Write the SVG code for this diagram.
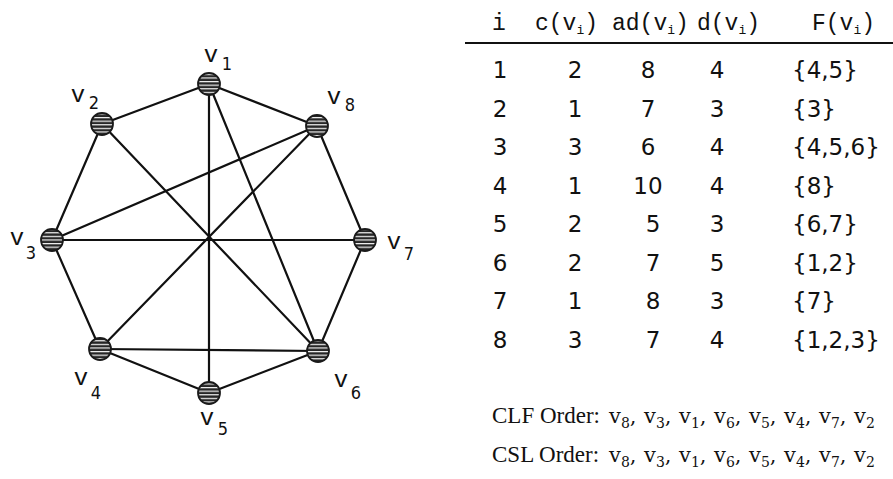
<svg xmlns="http://www.w3.org/2000/svg" width="893" height="479" viewBox="0 0 893 479">
<style>
.e{stroke:#111;stroke-width:2.2;fill:none;stroke-linecap:round}
.node{fill:url(#stripe);stroke:#1a1a1a;stroke-width:1.8}
.lv{font-family:"Liberation Mono",monospace;font-size:24px;fill:#111;text-anchor:middle}
.ls{font-family:"DejaVu Sans Condensed","DejaVu Sans",sans-serif;font-size:18px;fill:#111;text-anchor:middle}
.th{font-family:"Liberation Mono",monospace;font-size:23px;fill:#111}
.ths{font-family:"Liberation Mono",monospace;font-size:13px;fill:#111}
.td{font-family:"DejaVu Sans",sans-serif;font-size:23px;fill:#111;text-anchor:middle}
.tf{font-family:"DejaVu Sans",sans-serif;font-size:23px;fill:#111}
.ord{font-family:"Liberation Serif",serif;font-size:23px;fill:#111}
.ov{font-family:"DejaVu Serif",serif;font-size:21px;fill:#111}
.os{font-family:"DejaVu Serif",serif;font-size:14px;fill:#111}
</style>
<defs>
<pattern id="stripe" width="8" height="3.6" patternUnits="userSpaceOnUse">
<rect width="8" height="3.6" fill="#262626"/>
<rect y="1.8" width="8" height="1.2" fill="#f4f4f4"/>
</pattern>
</defs>
<rect width="893" height="479" fill="#fff"/>
<g id="connectors">
<line class="e" x1="209" y1="84" x2="102" y2="124"/>
<line class="e" x1="209" y1="84" x2="317" y2="126"/>
<line class="e" x1="102" y1="124" x2="52" y2="240"/>
<line class="e" x1="317" y1="126" x2="365" y2="240"/>
<line class="e" x1="52" y1="240" x2="100" y2="349"/>
<line class="e" x1="365" y1="240" x2="318" y2="351"/>
<line class="e" x1="100" y1="349" x2="209" y2="393"/>
<line class="e" x1="209" y1="393" x2="318" y2="351"/>
<line class="e" x1="209" y1="84" x2="209" y2="393"/>
<line class="e" x1="52" y1="240" x2="365" y2="240"/>
<line class="e" x1="102" y1="124" x2="318" y2="351"/>
<line class="e" x1="317" y1="126" x2="100" y2="349"/>
<line class="e" x1="52" y1="240" x2="317" y2="126"/>
<line class="e" x1="209" y1="84" x2="318" y2="351"/>
<line class="e" x1="100" y1="349" x2="318" y2="351"/>
</g>
<g id="v1"><circle class="node" cx="209" cy="84" r="11"/><text class="lv" x="211" y="62">v</text><text class="ls" x="227" y="70">1</text></g>
<g id="v2"><circle class="node" cx="102" cy="124" r="11"/><text class="lv" x="78" y="102">v</text><text class="ls" x="94" y="109">2</text></g>
<g id="v8"><circle class="node" cx="317" cy="126" r="11"/><text class="lv" x="334" y="104">v</text><text class="ls" x="350" y="111">8</text></g>
<g id="v3"><circle class="node" cx="52" cy="240" r="11"/><text class="lv" x="17" y="245">v</text><text class="ls" x="31" y="259">3</text></g>
<g id="v7"><circle class="node" cx="365" cy="240" r="11"/><text class="lv" x="394" y="249">v</text><text class="ls" x="409" y="260">7</text></g>
<g id="v4"><circle class="node" cx="100" cy="349" r="11"/><text class="lv" x="81" y="385">v</text><text class="ls" x="96" y="399">4</text></g>
<g id="v6"><circle class="node" cx="318" cy="351" r="11"/><text class="lv" x="341" y="387">v</text><text class="ls" x="356" y="399">6</text></g>
<g id="v5"><circle class="node" cx="209" cy="393" r="11"/><text class="lv" x="207" y="425">v</text><text class="ls" x="223" y="435">5</text></g>
<g id="table">
<text class="th" x="492" y="30">i</text>
<text class="th" x="535" y="30">c(v<tspan class="ths" dy="4">i</tspan><tspan dy="-4">)</tspan></text>
<text class="th" x="612" y="30">ad(v<tspan class="ths" dy="4">i</tspan><tspan dy="-4">)</tspan></text>
<text class="th" x="697" y="30">d(v<tspan class="ths" dy="4">i</tspan><tspan dy="-4">)</tspan></text>
<text class="th" x="812" y="30">F(v<tspan class="ths" dy="4">i</tspan><tspan dy="-4">)</tspan></text>
<line x1="465" y1="43" x2="893" y2="43" stroke="#111" stroke-width="2"/>
<g>
<text class="td" x="500" y="78">1</text><text class="td" x="575" y="78">2</text><text class="td" x="648" y="78">8</text><text class="td" x="717" y="78">4</text><text class="tf" x="792" y="78">{4,5}</text>
<text class="td" x="500" y="116.5">2</text><text class="td" x="575" y="116.5">1</text><text class="td" x="648" y="116.5">7</text><text class="td" x="717" y="116.5">3</text><text class="tf" x="792" y="116.5">{3}</text>
<text class="td" x="500" y="155">3</text><text class="td" x="575" y="155">3</text><text class="td" x="648" y="155">6</text><text class="td" x="717" y="155">4</text><text class="tf" x="792" y="155">{4,5,6}</text>
<text class="td" x="500" y="193.5">4</text><text class="td" x="575" y="193.5">1</text><text class="td" x="648" y="193.5">10</text><text class="td" x="717" y="193.5">4</text><text class="tf" x="792" y="193.5">{8}</text>
<text class="td" x="500" y="232">5</text><text class="td" x="575" y="232">2</text><text class="td" x="653" y="232">5</text><text class="td" x="717" y="232">3</text><text class="tf" x="792" y="232">{6,7}</text>
<text class="td" x="500" y="270.5">6</text><text class="td" x="575" y="270.5">2</text><text class="td" x="653" y="270.5">7</text><text class="td" x="717" y="270.5">5</text><text class="tf" x="792" y="270.5">{1,2}</text>
<text class="td" x="500" y="309">7</text><text class="td" x="575" y="309">1</text><text class="td" x="653" y="309">8</text><text class="td" x="717" y="309">3</text><text class="tf" x="792" y="309">{7}</text>
<text class="td" x="500" y="347.5">8</text><text class="td" x="575" y="347.5">3</text><text class="td" x="653" y="347.5">7</text><text class="td" x="717" y="347.5">4</text><text class="tf" x="792" y="347.5">{1,2,3}</text>
</g>
</g>
<g id="clf">
<text class="ord" x="492" y="423">CLF Order:</text>
<text class="ov" x="609" y="423">v<tspan class="os" dy="5">8</tspan><tspan dy="-5">,</tspan></text>
<text class="ov" x="644" y="423">v<tspan class="os" dy="5">3</tspan><tspan dy="-5">,</tspan></text>
<text class="ov" x="679" y="423">v<tspan class="os" dy="5">1</tspan><tspan dy="-5">,</tspan></text>
<text class="ov" x="714" y="423">v<tspan class="os" dy="5">6</tspan><tspan dy="-5">,</tspan></text>
<text class="ov" x="749" y="423">v<tspan class="os" dy="5">5</tspan><tspan dy="-5">,</tspan></text>
<text class="ov" x="784" y="423">v<tspan class="os" dy="5">4</tspan><tspan dy="-5">,</tspan></text>
<text class="ov" x="819" y="423">v<tspan class="os" dy="5">7</tspan><tspan dy="-5">,</tspan></text>
<text class="ov" x="854" y="423">v<tspan class="os" dy="5">2</tspan></text>
</g>
<g id="csl">
<text class="ord" x="492" y="462">CSL Order:</text>
<text class="ov" x="609" y="462">v<tspan class="os" dy="5">8</tspan><tspan dy="-5">,</tspan></text>
<text class="ov" x="644" y="462">v<tspan class="os" dy="5">3</tspan><tspan dy="-5">,</tspan></text>
<text class="ov" x="679" y="462">v<tspan class="os" dy="5">1</tspan><tspan dy="-5">,</tspan></text>
<text class="ov" x="714" y="462">v<tspan class="os" dy="5">6</tspan><tspan dy="-5">,</tspan></text>
<text class="ov" x="749" y="462">v<tspan class="os" dy="5">5</tspan><tspan dy="-5">,</tspan></text>
<text class="ov" x="784" y="462">v<tspan class="os" dy="5">4</tspan><tspan dy="-5">,</tspan></text>
<text class="ov" x="819" y="462">v<tspan class="os" dy="5">7</tspan><tspan dy="-5">,</tspan></text>
<text class="ov" x="854" y="462">v<tspan class="os" dy="5">2</tspan></text>
</g>
</svg>
